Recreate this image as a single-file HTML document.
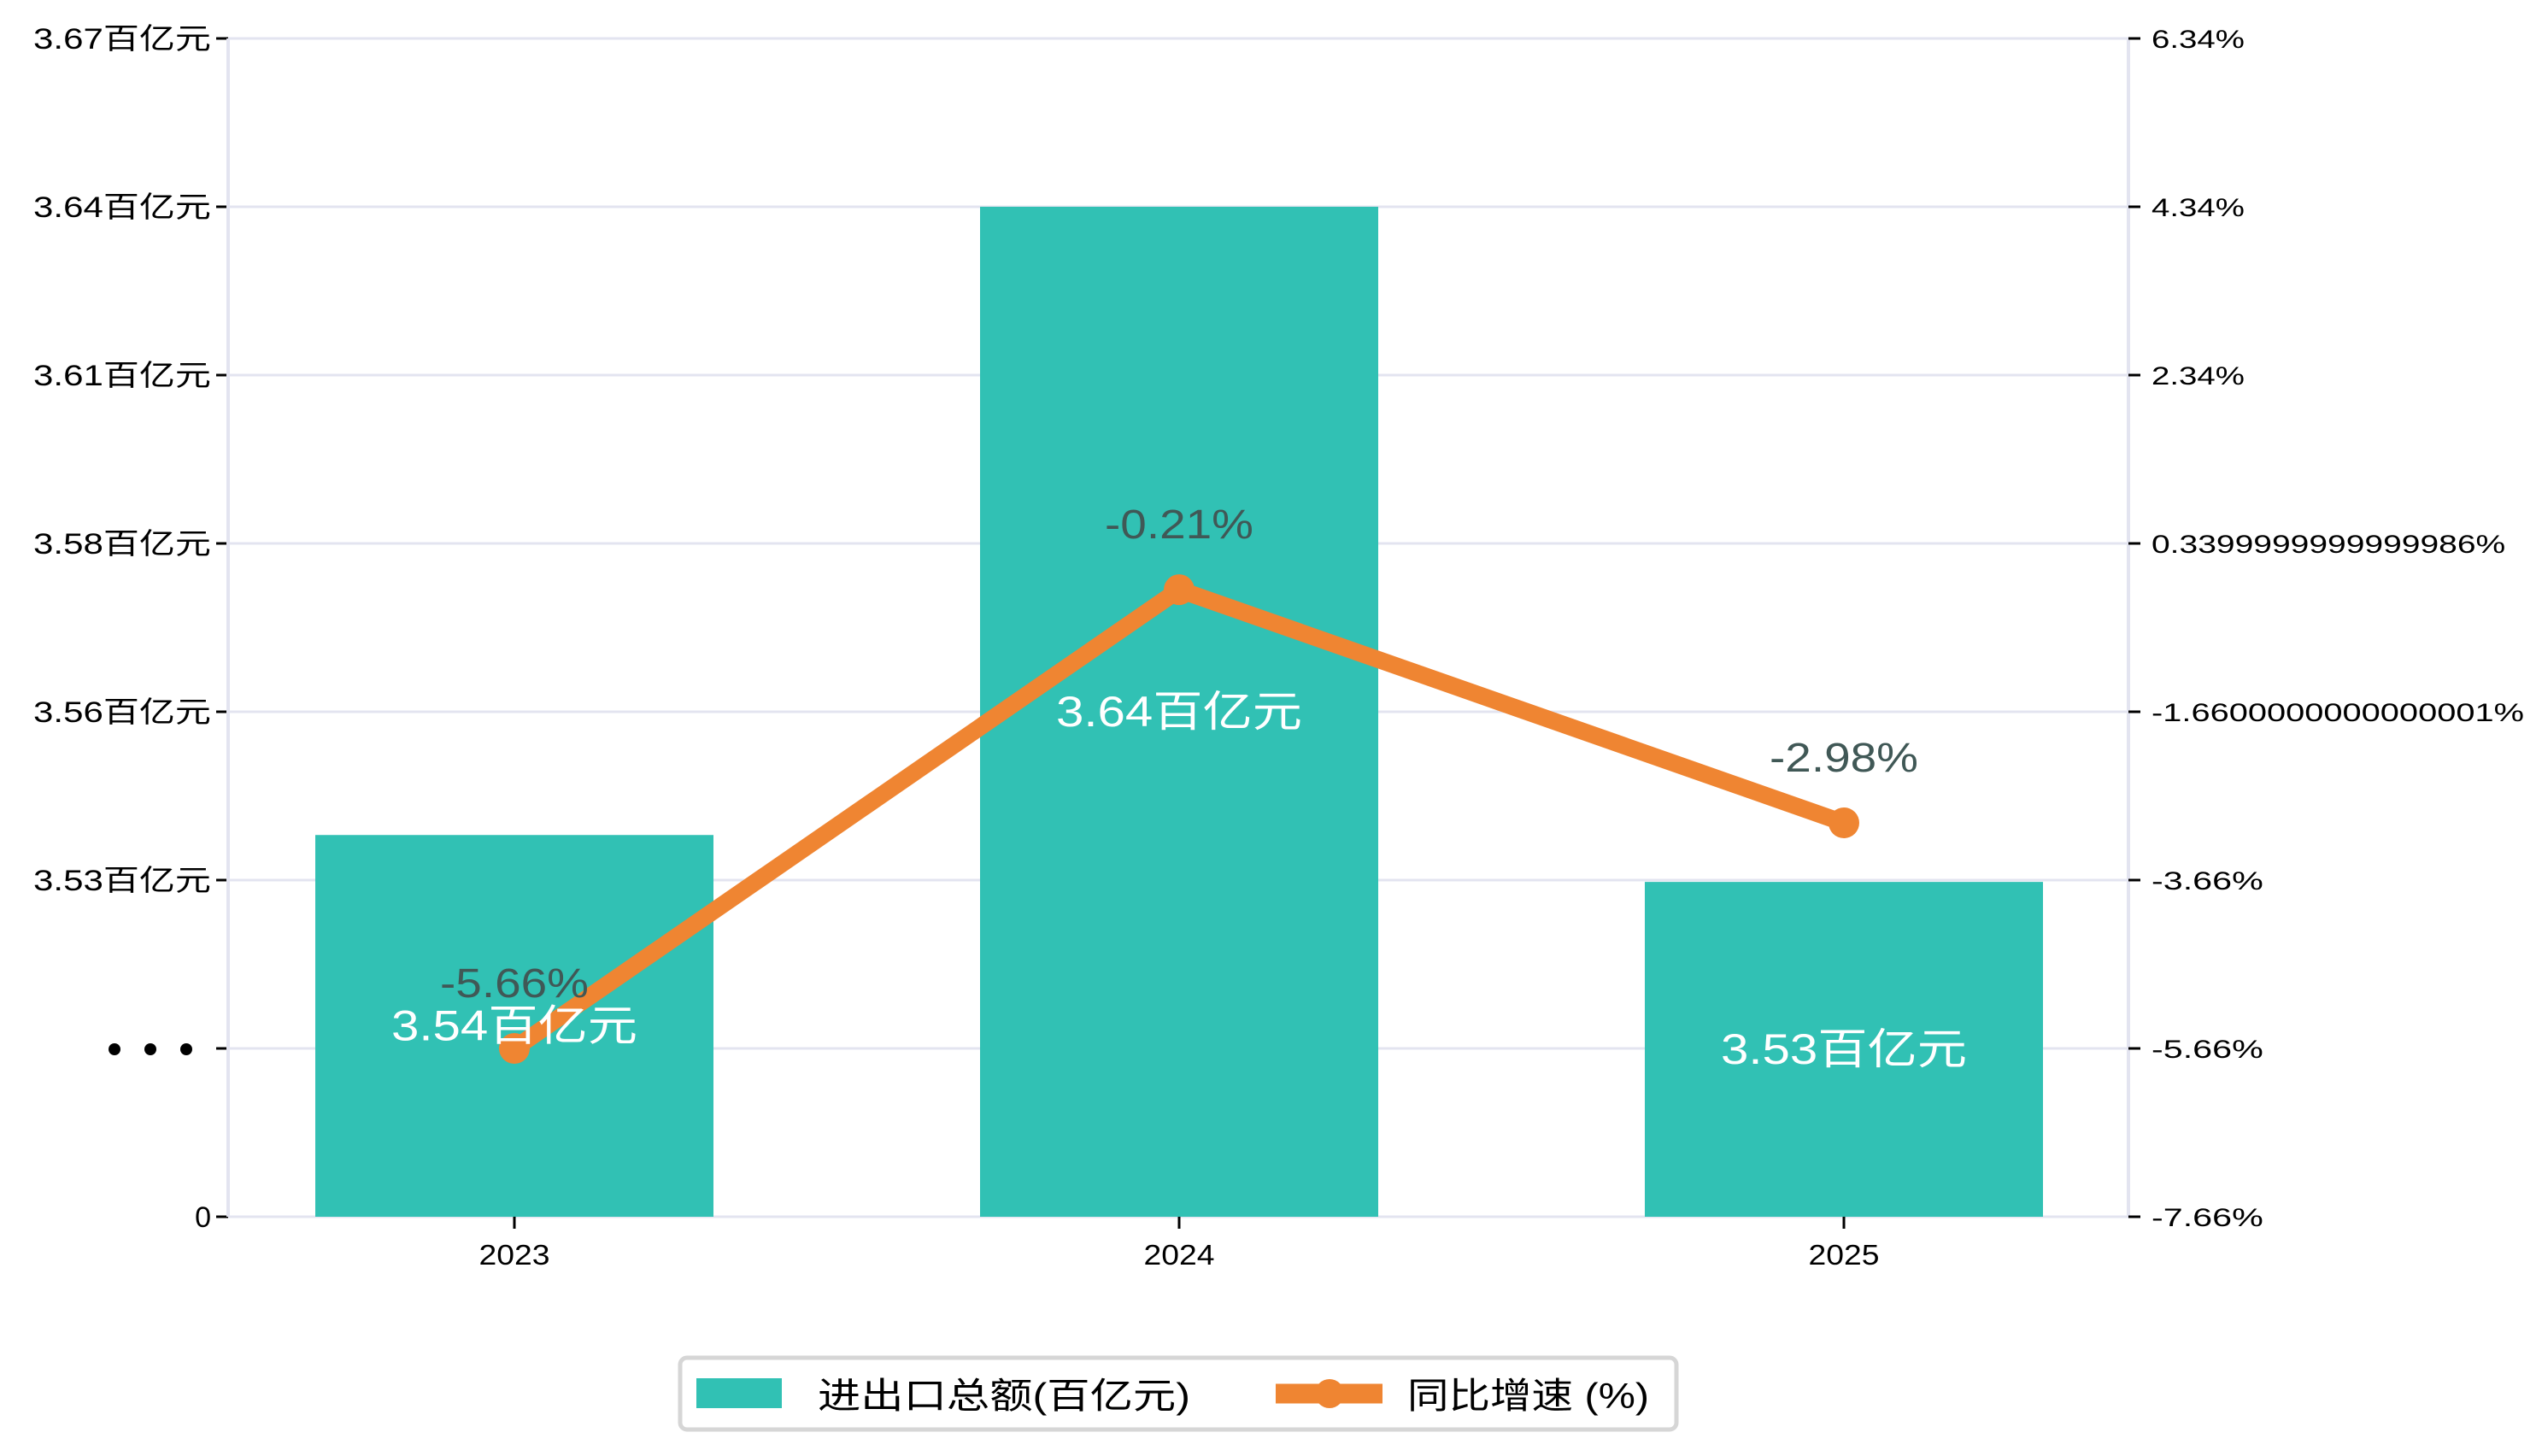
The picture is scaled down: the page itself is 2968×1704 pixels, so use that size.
<!DOCTYPE html>
<html><head><meta charset="utf-8"><style>
html,body{margin:0;padding:0;background:#fff;}
svg{display:block;}
text{font-family:"Liberation Sans","Noto Sans CJK SC",sans-serif;}
</style></head><body>
<svg id="chart" width="2968" height="1704" viewBox="0 0 2968 1704" xmlns="http://www.w3.org/2000/svg">
<g id="grid"></g>
<g id="bars"></g>
<g id="axes"></g>
<g id="line"></g>
<g id="labels"></g>
<g>
  <circle cx="134" cy="1228" r="7" fill="#000"/>
  <circle cx="176" cy="1228" r="7" fill="#000"/>
  <circle cx="218" cy="1228" r="7" fill="#000"/>
</g>
<g>
  <rect x="796" y="1589" width="1166" height="84" rx="8" fill="#fff" stroke="#d6d6d6" stroke-width="5"/>
  <rect x="815" y="1613" width="100" height="35" fill="#31c1b4"/>
  <text x="957" y="1648" font-size="42" textLength="436" lengthAdjust="spacingAndGlyphs" fill="#000">进出口总额(百亿元)</text>
  <line x1="1493" y1="1631" x2="1618" y2="1631" stroke="#ef8532" stroke-width="23"/>
  <circle cx="1556" cy="1631" r="17" fill="#ef8532"/>
  <text x="1647" y="1648" font-size="42" textLength="283" lengthAdjust="spacingAndGlyphs" fill="#000">同比增速 (%)</text>
</g>
</svg>
<script>
const categories = ["2023","2024","2025"];
const totals = [3.5375, 3.642, 3.5297];
const totalLabels = ["3.54百亿元","3.64百亿元","3.53百亿元"];
const growth = [-5.66, -0.21, -2.98];
const growthLabels = ["-5.66%","-0.21%","-2.98%"];
const leftTickLabels = ["0","","3.53百亿元","3.56百亿元","3.58百亿元","3.61百亿元","3.64百亿元","3.67百亿元"];
const rightTickValues = [-7.66,-5.66,-3.66,-1.66,0.34,2.34,4.34,6.34];
const rightTickLabels = ["-7.66%","-5.66%","-3.66%","-1.6600000000000001%","0.3399999999999986%","2.34%","4.34%","6.34%"];

const NS="http://www.w3.org/2000/svg";
const L=267,R=2491,T=45,B=1424,STEP=197;
function xc(i){return 602+778*i;}
function yLeft(v){return 1030-(v-3.530)*7036;}
function yRight(v){return B-(v-(-7.66))*(STEP/2);}
function mk(tag,attrs,parent,txt){const e=document.createElementNS(NS,tag);for(const k in attrs)e.setAttribute(k,attrs[k]);if(txt!==undefined)e.textContent=txt;parent.appendChild(e);return e;}
const grid=document.getElementById('grid'),bars=document.getElementById('bars'),axes=document.getElementById('axes'),line=document.getElementById('line'),labels=document.getElementById('labels');

for(let i=0;i<leftTickLabels.length;i++){
  const y=B-i*STEP;
  const g=mk('line',{x1:L,y1:y,x2:R,y2:y,stroke:'#e3e4f0','stroke-width':3},grid);
  
  
  const t=mk('line',{x1:L-14,y1:y,x2:L,y2:y,stroke:'#000','stroke-width':3},axes);
  
  
  const lbl=leftTickLabels[i];
  if(!lbl) continue;
  const attrs={x:L-20,y:y+12,'font-size':34,'text-anchor':'end',fill:'#000'};
  if(lbl.length>4){attrs.textLength=208;attrs.lengthAdjust='spacingAndGlyphs';}
  const tx=mk('text',attrs,axes,lbl);
  
  
}
const la=mk('line',{x1:L,y1:T,x2:L,y2:B,stroke:'#e3e4f0','stroke-width':4},axes);


const ra=mk('line',{x1:R,y1:T,x2:R,y2:B,stroke:'#e3e4f0','stroke-width':4},axes);



for(let i=0;i<rightTickValues.length;i++){
  const y=yRight(rightTickValues[i]);
  const t=mk('line',{x1:R,y1:y,x2:R+14,y2:y,stroke:'#000','stroke-width':3},axes);
  
  
  const lbl=rightTickLabels[i];
  const tx=mk('text',{x:R+27,y:y+11,'font-size':30,fill:'#000',textLength:lbl.length*21.8,lengthAdjust:'spacingAndGlyphs'},axes,lbl);
  
  
}

for(let i=0;i<categories.length;i++){
  const x=xc(i),y=yLeft(totals[i]);
  const b=mk('rect',{x:x-233,y:y,width:466,height:B-y,fill:'#31c1b4'},bars);
  
  
  const t=mk('line',{x1:x,y1:B,x2:x,y2:B+14,stroke:'#000','stroke-width':3},axes);
  
  
  const tx=mk('text',{x:x,y:B+56,'font-size':33,'text-anchor':'middle',fill:'#000',textLength:83,lengthAdjust:'spacingAndGlyphs'},axes,categories[i]);
  
  
  const bl=mk('text',{x:x,y:(y+B)/2+17,'font-size':50,'text-anchor':'middle',fill:'#fff',textLength:288,lengthAdjust:'spacingAndGlyphs'},labels,totalLabels[i]);
  
  
}

let d='';
for(let i=0;i<growth.length;i++){d+=(i?'L':'M')+xc(i)+' '+yRight(growth[i]);}
const p=mk('path',{d:d,fill:'none',stroke:'#ef8532','stroke-width':20,'stroke-linejoin':'round'},line);


for(let i=0;i<growth.length;i++){
  const c=mk('circle',{cx:xc(i),cy:yRight(growth[i]),r:18,fill:'#ef8532'},line);
  
  
  const t=mk('text',{x:xc(i),y:yRight(growth[i])-60,'font-size':48,'text-anchor':'middle',fill:'#405856',textLength:174,lengthAdjust:'spacingAndGlyphs'},labels,growthLabels[i]);
  
  
}
</script>
</body></html>
